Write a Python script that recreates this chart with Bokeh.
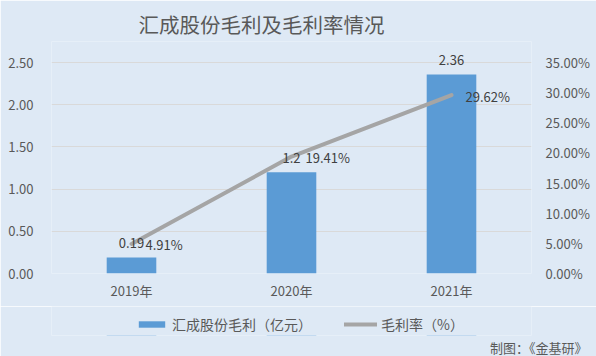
from bokeh.plotting import figure
from bokeh.layouts import column
from bokeh.models import (FactorRange, Range1d, LinearAxis, FixedTicker,
                          PrintfTickFormatter, ColumnDataSource, Legend, LegendItem, Title)
from bokeh.core.properties import value
from bokeh.embed import file_html
from bokeh.resources import INLINE

years = ["2019年", "2020年", "2021年"]
gross_profit = [0.19, 1.2, 2.36]
gross_profit_labels = ["0.19", "1.2", "2.36"]
margin_pct = [4.91, 19.41, 29.62]
margin_labels = ["4.91%", "19.41%", "29.62%"]
left_ticks = [0, 0.5, 1.0, 1.5, 2.0, 2.5]
right_ticks = [0, 5, 10, 15, 20, 25, 30, 35]

BG = "#DEE9F5"
TXT = "#595959"
BAR = "#5B9BD5"
LINE = "#A5A5A5"
FONT = "Noto Sans CJK SC"

src = ColumnDataSource(dict(x=years, gp=gross_profit, gpl=gross_profit_labels,
                            m=margin_pct, ml=margin_labels))

p = figure(width=596, height=306, x_range=FactorRange(*years), y_range=Range1d(0, 2.75),
           output_backend="svg", toolbar_location=None,
           min_border_left=51, min_border_right=65, min_border_top=41, min_border_bottom=33)
p.background_fill_color = BG
p.border_fill_color = BG
p.outline_line_color = None
p.extra_y_ranges = {"pct": Range1d(0, 38.5)}

p.title.text = "汇成股份毛利及毛利率情况"
p.title.align = "left"
p.title.offset = 87
p.title.standoff = 5
p.title.text_font = FONT
p.title.text_font_size = "20.5px"
p.title.text_font_style = "normal"
p.title.text_color = TXT

p.xgrid.grid_line_color = None
p.ygrid.grid_line_color = "#D9D9D9"
p.ygrid.ticker = FixedTicker(ticks=left_ticks)

p.vbar(x="x", top="gp", width=0.31, source=src, fill_color=BAR, line_color=None)
p.line(x="x", y="m", source=src, y_range_name="pct", line_color=LINE,
       line_width=4, line_cap="round")

p.text(x="x", y="gp", text="gpl", source=src, text_align="center", text_baseline="bottom",
       y_offset=-9, text_font=value(FONT), text_font_size="13px", text_color="#404040")
p.text(x="x", y="m", text="ml", source=src, y_range_name="pct", text_align="left",
       text_baseline="middle", x_offset=14, y_offset=1, text_font=value(FONT),
       text_font_size="13px", text_color="#404040")

for ax in [p.xaxis[0], p.yaxis[0]]:
    ax.axis_line_color = None
    ax.major_tick_line_color = None
    ax.minor_tick_line_color = None
    ax.major_tick_out = 0
    ax.major_label_text_font = FONT
    ax.major_label_text_font_size = "13px"
    ax.major_label_text_color = TXT

p.xaxis[0].major_label_standoff = 7
p.yaxis[0].ticker = FixedTicker(ticks=left_ticks)
p.yaxis[0].formatter = PrintfTickFormatter(format="%.2f")
p.yaxis[0].major_label_standoff = 18

ra = LinearAxis(y_range_name="pct", ticker=FixedTicker(ticks=right_ticks),
                formatter=PrintfTickFormatter(format="%.2f%%"))
ra.axis_line_color = None
ra.major_tick_line_color = None
ra.minor_tick_line_color = None
ra.major_tick_out = 0
ra.major_label_text_font = FONT
ra.major_label_text_font_size = "13px"
ra.major_label_text_color = TXT
ra.major_label_standoff = 14
p.add_layout(ra, "right")

# bottom strip: legend and credit (series drawn again below its visible window, legend only)
p2 = figure(width=596, height=50, x_range=FactorRange(*years), y_range=Range1d(100, 101),
            output_backend="svg", toolbar_location=None,
            x_axis_location=None, y_axis_location=None,
            min_border_left=51, min_border_right=65, min_border_top=0, min_border_bottom=0)
p2.background_fill_color = BG
p2.border_fill_color = BG
p2.outline_line_color = None
p2.grid.grid_line_color = None

lg_bar = p2.vbar(x="x", top="gp", width=0.31, source=src, fill_color=BAR, line_color=None)
lg_line = p2.line(x="x", y="gp", source=src, line_color=LINE, line_width=4, line_cap="round")

legend = Legend(items=[LegendItem(label="汇成股份毛利（亿元）", renderers=[lg_bar]),
                       LegendItem(label="毛利率（%）", renderers=[lg_line])],
                orientation="horizontal", location=(84, 1))
legend.background_fill_alpha = 0
legend.border_line_color = None
legend.padding = 0
legend.margin = 0
legend.spacing = 32
legend.glyph_width = 33
legend.glyph_height = 8
legend.label_height = 14
legend.label_standoff = 4
legend.label_text_font = FONT
legend.label_text_font_size = "14px"
legend.label_text_color = TXT
p2.add_layout(legend, "center")

credit = Title(text="制图：《金基研》", align="right", offset=-56, standoff=0,
               text_font=FONT, text_font_size="13px", text_font_style="normal", text_color=TXT)
p2.add_layout(credit, "below")

open("out.html", "w").write(file_html(column(p, p2, spacing=0), INLINE))
